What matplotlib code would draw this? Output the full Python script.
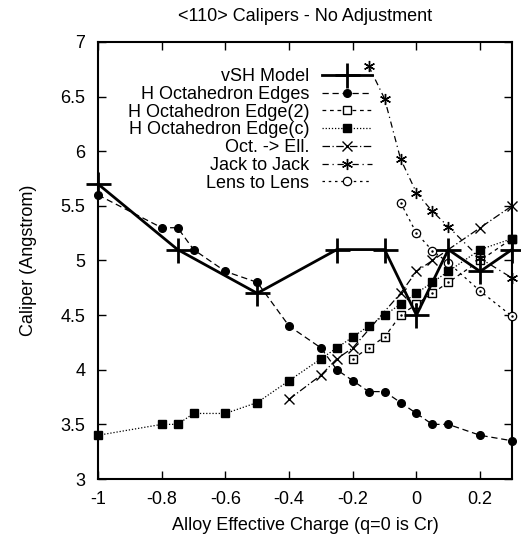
import matplotlib
matplotlib.use("Agg")
import matplotlib.pyplot as plt

plt.rcParams['font.family'] = ['Liberation Sans', 'DejaVu Sans']

# vSH Model
vsh_x = [-1.0, -0.75, -0.5, -0.25, -0.1, 0.0, 0.1, 0.2, 0.3]
vsh_y = [5.7, 5.1, 4.7, 5.1, 5.1, 4.5, 5.1, 4.9, 5.1]

# H Octahedron Edges
edges_x = [-1.0, -0.8, -0.75, -0.7, -0.6, -0.5, -0.4, -0.3, -0.25, -0.2, -0.15, -0.1, -0.05, 0.0, 0.05, 0.1, 0.2, 0.3]
edges_y = [5.6, 5.3, 5.3, 5.1, 4.9, 4.8, 4.4, 4.2, 4.0, 3.9, 3.8, 3.8, 3.7, 3.6, 3.5, 3.5, 3.4, 3.35]

# H Octahedron Edge(2)
edge2_x = [-0.2, -0.15, -0.1, -0.05, 0.0, 0.05, 0.1, 0.2, 0.3]
edge2_y = [4.1, 4.2, 4.3, 4.5, 4.6, 4.7, 4.8, 5.0, 5.2]

# H Octahedron Edge(c)
edgec_x = [-1.0, -0.8, -0.75, -0.7, -0.6, -0.5, -0.4, -0.3, -0.25, -0.2, -0.15, -0.1, -0.05, 0.0, 0.05, 0.1, 0.2, 0.3]
edgec_y = [3.4, 3.5, 3.5, 3.6, 3.6, 3.7, 3.9, 4.1, 4.2, 4.3, 4.4, 4.5, 4.6, 4.7, 4.8, 4.9, 5.1, 5.2]

# Oct. -> Ell.
oct_x = [-0.4, -0.3, -0.25, -0.2, -0.05, 0.0, 0.05, 0.2, 0.3]
oct_y = [3.73, 3.95, 4.1, 4.2, 4.7, 4.9, 5.0, 5.3, 5.5]

# Jack to Jack
jack_x = [-0.15, -0.1, -0.05, 0.0, 0.05, 0.1, 0.2, 0.3]
jack_y = [6.78, 6.48, 5.93, 5.62, 5.45, 5.31, 5.02, 4.84]

# Lens to Lens
lens_x = [-0.05, 0.0, 0.05, 0.1, 0.2, 0.3]
lens_y = [5.53, 5.25, 5.09, 4.98, 4.72, 4.49]

xticks = [-1, -0.8, -0.6, -0.4, -0.2, 0, 0.2]
xticklabels = ["-1", "-0.8", "-0.6", "-0.4", "-0.2", "0", "0.2"]
yticks = [3, 3.5, 4, 4.5, 5, 5.5, 6, 6.5, 7]
yticklabels = ["3", "3.5", "4", "4.5", "5", "5.5", "6", "6.5", "7"]

FS = 13

fig = plt.figure(figsize=(5.21, 5.35), dpi=100)
ax = fig.add_axes([98/521, 1-479/535, (512-98)/521, (479-42)/535])

lw = 0.9
ax.plot(vsh_x, vsh_y, color='black', lw=2.0, marker='+', markersize=18,
        markeredgewidth=2.0, label='vSH Model', zorder=5, clip_on=False)
ax.plot(edges_x, edges_y, color='black', lw=lw, ls=(0, (5, 3)), marker='o',
        markersize=5.5, label='H Octahedron Edges', zorder=4, clip_on=False)
ax.plot(edge2_x, edge2_y, color='black', lw=lw, ls=(0, (3, 3)), marker='s',
        markersize=6, mfc='white', mew=1.0, label='H Octahedron Edge(2)', zorder=3, clip_on=False)
ax.plot(edge2_x, edge2_y, color='black', lw=0, marker='.', markersize=1.5,
        zorder=3, clip_on=False)
ax.plot(edgec_x, edgec_y, color='black', lw=lw, ls=(0, (1, 1.5)), marker='s',
        markersize=6, label='H Octahedron Edge(c)', zorder=4, clip_on=False)
ax.plot(oct_x, oct_y, color='black', lw=lw, ls=(0, (6, 2, 1, 2)), marker='x',
        markersize=7, mew=1.0, label='Oct. -> Ell.', zorder=3, clip_on=False)
ax.plot(jack_x, jack_y, color='black', lw=lw, ls=(0, (5, 3, 1, 3)), marker=(6, 2, 0),
        markersize=8, mew=1.0, label='Jack to Jack', zorder=3, clip_on=False)
ax.plot(lens_x, lens_y, color='black', lw=lw, ls=(0, (2, 3)), marker='o',
        markersize=6, mfc='white', mew=0.9, label='Lens to Lens', zorder=3, clip_on=False)
ax.plot(lens_x, lens_y, color='black', lw=0, marker='.', markersize=1.5,
        zorder=3, clip_on=False)

ax.set_xlim(-1, 0.3)
ax.set_ylim(3, 7)
ax.set_xticks(xticks)
ax.set_xticklabels(xticklabels)
ax.set_yticks(yticks)
ax.set_yticklabels(yticklabels)
ax.tick_params(direction='in', length=6, width=1.0, top=True, right=True,
               labelsize=FS)
ax.tick_params(axis='x', pad=9)
ax.tick_params(axis='y', pad=9)
for s in ax.spines.values():
    s.set_linewidth(1.5)

ax.set_xlabel('Alloy Effective Charge (q=0 is Cr)', fontsize=FS, labelpad=6)
ax.set_ylabel('Caliper (Angstrom)', fontsize=FS, labelpad=17)
ax.set_title('<110> Calipers - No Adjustment', fontsize=FS, pad=15)

leg = ax.legend(loc='upper right', bbox_to_anchor=(0.662, 0.940), frameon=False,
                markerfirst=False, fontsize=FS, handlelength=2.8,
                labelspacing=0.04, borderpad=0, handletextpad=0.67, borderaxespad=0)

fig.savefig('out.png', dpi=100)
